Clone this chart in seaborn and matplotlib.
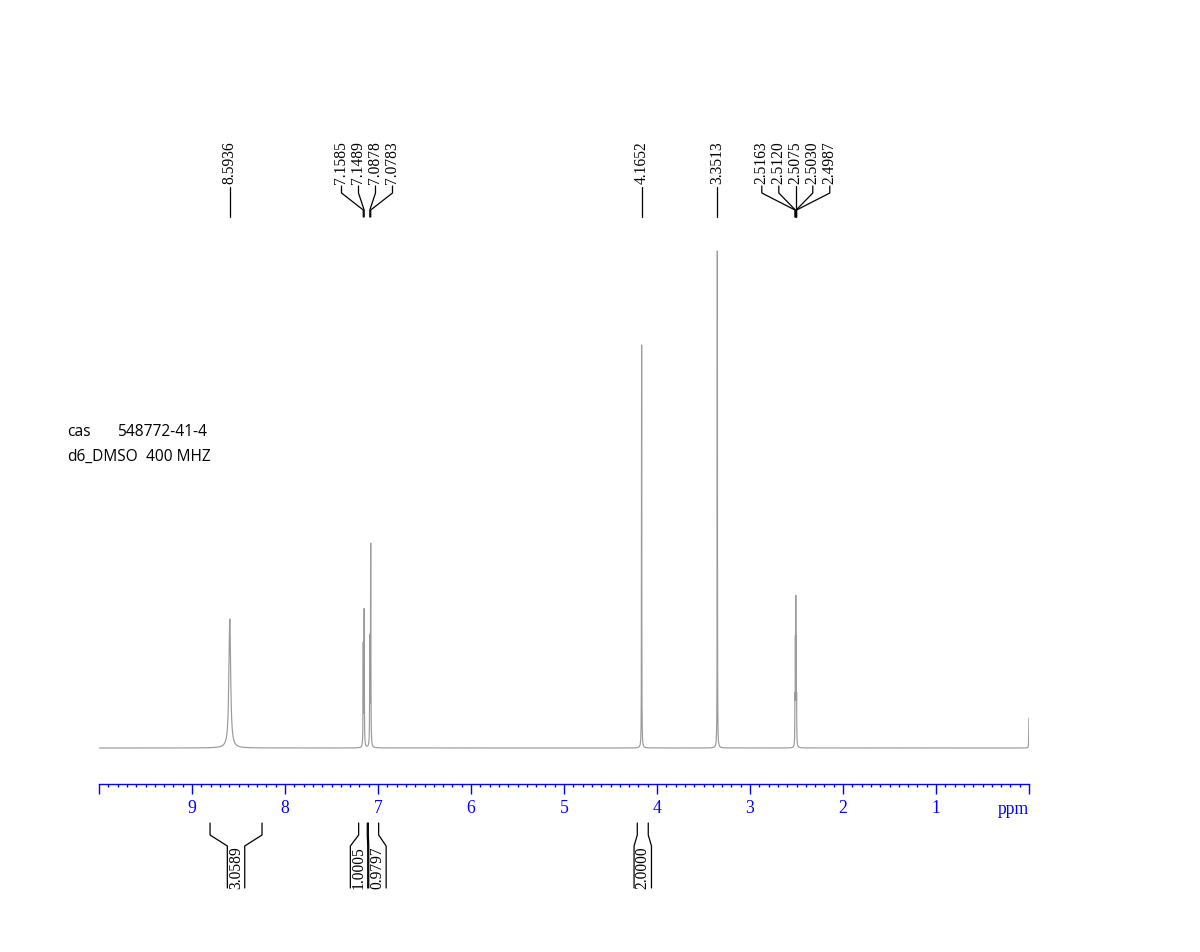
import numpy as np
import pandas as pd
import matplotlib
matplotlib.use("Agg")
import matplotlib.pyplot as plt
import seaborn as sns

# ---------------- data ----------------
peak_ppm = [8.5936, 7.1585, 7.1489, 7.0878, 7.0783, 4.1652, 3.3513,
            2.5163, 2.5120, 2.5075, 2.5030, 2.4987, 0.0]
peak_height = [129, 100, 135, 105, 200, 403, 497, 40, 92, 132, 92, 40, 30]
peak_hwhm = [0.011, 0.002, 0.002, 0.002, 0.002, 0.0015, 0.0015,
             0.0015, 0.0015, 0.0015, 0.0015, 0.0015, 0.002]

label_groups = [["8.5936"],
                ["7.1585", "7.1489", "7.0878", "7.0783"],
                ["4.1652"],
                ["3.3513"],
                ["2.5163", "2.5120", "2.5075", "2.5030", "2.4987"]]

integral_values = ["3.0589", "1.0005", "0.9797", "2.0000"]
integral_from = [8.806, 7.208, 7.104, 4.212]
integral_to = [8.247, 7.115, 6.993, 4.094]

major_ticks = [10, 9, 8, 7, 6, 5, 4, 3, 2, 1, 0]
major_labels = ["", "9", "8", "7", "6", "5", "4", "3", "2", "1", ""]

info_lines = [("cas", "548772-41-4"), ("d6_DMSO", "400 MHZ")]

# ---------------- spectrum (sum of Lorentzian lines) ----------------
ppm = np.linspace(-0.02, 10.0, 100201)
inten = np.zeros_like(ppm)
for p, h, w in zip(peak_ppm, peak_height, peak_hwhm):
    inten += h / (1.0 + ((ppm - p) / w) ** 2)
df = pd.DataFrame({"ppm": ppm, "intensity": inten})

# ---------------- figure ----------------
sns.set_style("white")
plt.rcParams["font.family"] = ["Liberation Serif", "DejaVu Serif"]

W, H = 1200, 952
fig = plt.figure(figsize=(W / 100, H / 100), dpi=100)
X0, X1 = 99, 1029
AXIS_Y, TOP_Y = 784, 130

ax = fig.add_axes([X0 / W, (H - AXIS_Y) / H, (X1 - X0) / W, (AXIS_Y - TOP_Y) / H])
sns.lineplot(data=df, x="ppm", y="intensity", ax=ax, color="#9a9a9a",
             linewidth=0.85, estimator=None, sort=False)
ax.set_xlim(10, 0)
ax.set_ylim(-36, AXIS_Y - TOP_Y - 36)
ax.set_xlabel("")
ax.set_ylabel("")
ax.set_yticks([])
for s in ["top", "left", "right"]:
    ax.spines[s].set_visible(False)
blue = "#0000ff"
ax.spines["bottom"].set_color(blue)
ax.spines["bottom"].set_linewidth(1.0)
ax.set_xticks(major_ticks)
ax.set_xticklabels(major_labels)
ax.set_xticks(np.arange(0, 10.001, 0.1), minor=True)
ax.tick_params(axis="x", which="both", bottom=True, top=False)
ax.tick_params(axis="x", which="major", direction="out", length=7.2, width=1,
               colors=blue, labelsize=12.7, pad=4)
ax.tick_params(axis="x", which="minor", direction="out", length=2.4, width=1,
               colors=blue)
ax.patch.set_alpha(0)
ax.text(1.0, -25 / (AXIS_Y - TOP_Y), "ppm", transform=ax.transAxes,
        ha="right", va="center", color=blue, fontsize=12.7)

# overlay axes for annotations: x in ppm, y in pixel rows
ov = fig.add_axes([X0 / W, 0, (X1 - X0) / W, 1])
ov.set_xlim(10, 0)
ov.set_ylim(H, 0)
ov.axis("off")
ov.patch.set_alpha(0)

PX = 93.0  # pixels per ppm
LAB_SP = 17.0 / PX
lab_fs = 11.2
for grp in label_groups:
    vals = [float(s) for s in grp]
    n = len(vals)
    c = float(np.mean(vals))
    for i, (s, v) in enumerate(zip(grp, vals)):
        lx = c + (n - 1) / 2 * LAB_SP - i * LAB_SP
        ov.text(lx, 184, s, rotation=90, ha="center", va="bottom",
                fontsize=lab_fs, color="black")
        if n == 1:
            ov.plot([v, v], [187, 217], color="black", lw=0.9)
        else:
            ov.plot([lx, lx, v, v], [186, 193, 210, 217], color="black", lw=0.9)

# integrals
BOX_HW = 8.7 / PX
GAP = 1.0 / PX
mids = [(a + b) / 2 for a, b in zip(integral_from, integral_to)]
order = np.argsort(mids)[::-1]
for _ in range(100):
    for j in range(len(order) - 1):
        i1, i2 = order[j], order[j + 1]
        need = 2 * BOX_HW + GAP
        d = mids[i1] - mids[i2]
        if d < need:
            sh = (need - d) / 2
            mids[i1] += sh
            mids[i2] -= sh
for val, a, b, c in zip(integral_values, integral_from, integral_to, mids):
    ov.plot([a, a, c + BOX_HW, c + BOX_HW], [823, 835, 846, 888], color="black", lw=0.9)
    ov.plot([b, b, c - BOX_HW, c - BOX_HW], [823, 835, 846, 888], color="black", lw=0.9)
    ov.text(c, 868, val, rotation=90, ha="center", va="center",
            fontsize=lab_fs, color="black")

# sample info text
info_x2 = [117, 146]
for k, (a, b) in enumerate(info_lines):
    y = 1 - (432 + 25 * k) / H
    fig.text(67 / W, y, a, ha="left", va="center", fontsize=11.2,
             family=["Open Sans", "DejaVu Sans"], color="black")
    fig.text(info_x2[k] / W, y, b, ha="left", va="center",
             fontsize=11.2, family=["Open Sans", "DejaVu Sans"], color="black")

fig.savefig("out.png", dpi=100)
